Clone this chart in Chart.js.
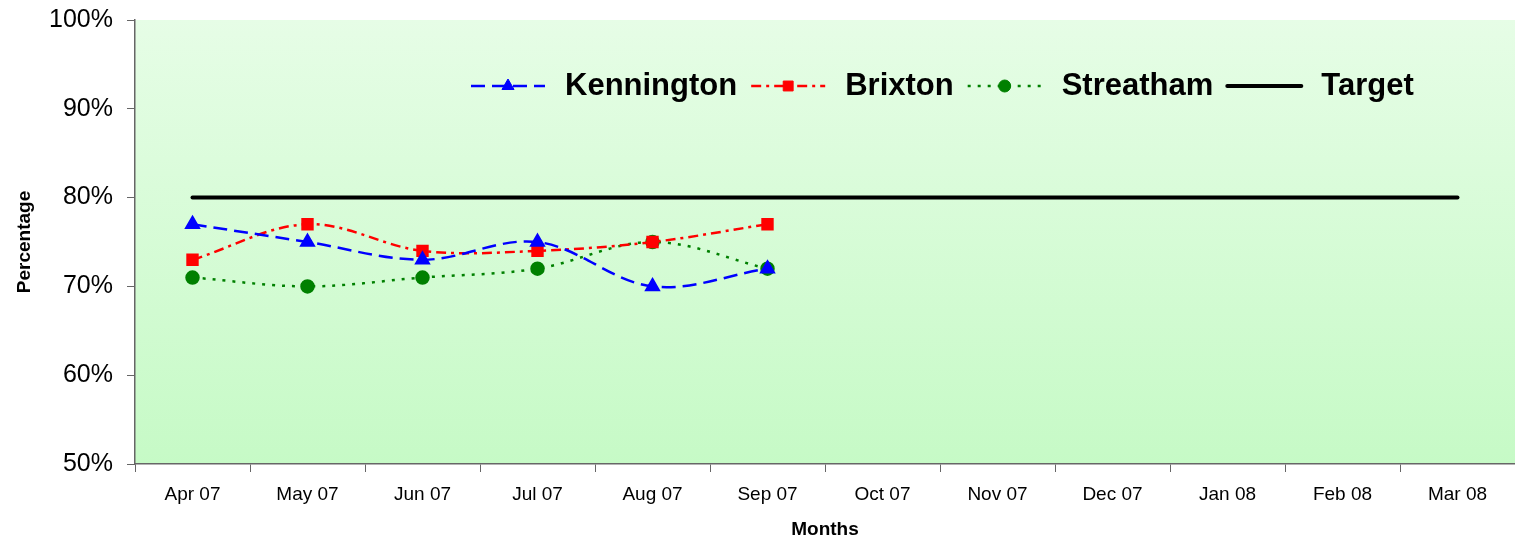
<!DOCTYPE html>
<html lang="en">
<head>
    <meta charset="UTF-8">
    <title>Percentage by Month</title>
    <script src="https://cdn.jsdelivr.net/npm/chart.js"></script>
    <style>
        body {
            margin: 0;
            padding: 0;
            background: #fff;
            overflow: hidden;
        }
        canvas {
            display: block;
        }
    </style>
</head>
<body>
    <canvas id="chart" width="1515" height="542"></canvas>

    <script>
        // data
        const months = ['Apr 07', 'May 07', 'Jun 07', 'Jul 07', 'Aug 07', 'Sep 07',
                        'Oct 07', 'Nov 07', 'Dec 07', 'Jan 08', 'Feb 08', 'Mar 08'];
        const kennington = [77, 75, 73, 75, 70, 72];
        const brixton = [73, 77, 74, 74, 75, 77];
        const streatham = [71, 70, 71, 72, 75, 72];
        const target = [80, 80, 80, 80, 80, 80, 80, 80, 80, 80, 80, 80];
        const yTicks = [50, 60, 70, 80, 90, 100];

        const fontFamily = "Arial, 'Liberation Sans', sans-serif";

        // green gradient behind the plot area
        const plotBackground = {
            id: 'plotBackground',
            beforeDraw(chart) {
                const { ctx, chartArea: a } = chart;
                const g = ctx.createLinearGradient(0, a.top, 0, a.bottom);
                g.addColorStop(0, '#e6fde6');
                g.addColorStop(1, '#c6fac6');
                ctx.save();
                ctx.fillStyle = g;
                ctx.fillRect(a.left, a.top, a.right - a.left, a.bottom - a.top);
                ctx.restore();
            }
        };

        // legend drawn inside the plot, line sample with marker then bold label
        const insideLegend = {
            id: 'insideLegend',
            afterDraw(chart) {
                const ctx = chart.ctx;
                const y = 86;
                let x = 471;
                ctx.save();
                ctx.font = 'bold 31px ' + fontFamily;
                ctx.textBaseline = 'middle';
                chart.data.datasets.forEach(ds => {
                    ctx.save();
                    ctx.strokeStyle = ds.borderColor;
                    ctx.lineWidth = ds.borderWidth;
                    ctx.setLineDash(ds.borderDash || []);
                    ctx.lineCap = ds.borderCapStyle || 'butt';
                    ctx.beginPath();
                    ctx.moveTo(x, y);
                    ctx.lineTo(x + 74, y);
                    ctx.stroke();
                    ctx.restore();
                    if (ds.pointRadius > 0) {
                        ctx.save();
                        ctx.fillStyle = ds.pointBackgroundColor;
                        ctx.strokeStyle = ds.pointBorderColor;
                        Chart.helpers.drawPoint(ctx, {
                            pointStyle: ds.pointStyle,
                            radius: ds.pointRadius,
                            rotation: 0,
                            borderWidth: 1
                        }, x + 37, y);
                        ctx.restore();
                    }
                    ctx.fillStyle = '#000';
                    ctx.fillText(ds.label, x + 94, y);
                    x += 94 + ctx.measureText(ds.label).width + 14;
                });
                ctx.restore();
            }
        };

        new Chart(document.getElementById('chart'), {
            type: 'line',
            data: {
                labels: months,
                datasets: [
                    {
                        label: 'Kennington',
                        data: kennington,
                        borderColor: '#0000ff',
                        borderWidth: 2.5,
                        borderDash: [14, 7],
                        pointStyle: 'triangle',
                        pointRadius: 7,
                        pointBackgroundColor: '#0000ff',
                        pointBorderColor: '#0000ff',
                        tension: 0.35
                    },
                    {
                        label: 'Brixton',
                        data: brixton,
                        borderColor: '#ff0000',
                        borderWidth: 2.5,
                        borderDash: [10, 5, 3, 5],
                        pointStyle: 'rect',
                        pointRadius: 7,
                        pointBackgroundColor: '#ff0000',
                        pointBorderColor: '#ff0000',
                        tension: 0.35
                    },
                    {
                        label: 'Streatham',
                        data: streatham,
                        borderColor: '#008000',
                        borderWidth: 2.5,
                        borderDash: [3, 7],
                        pointStyle: 'circle',
                        pointRadius: 6,
                        pointBackgroundColor: '#008000',
                        pointBorderColor: '#008000',
                        tension: 0.35
                    },
                    {
                        label: 'Target',
                        data: target,
                        borderColor: '#000000',
                        borderWidth: 4,
                        borderCapStyle: 'round',
                        pointRadius: 0,
                        tension: 0
                    }
                ]
            },
            options: {
                responsive: false,
                animation: false,
                layout: {
                    autoPadding: false,
                    padding: { top: 20, right: 0, left: 0, bottom: 0 }
                },
                plugins: {
                    legend: { display: false },
                    tooltip: { enabled: false }
                },
                scales: {
                    x: {
                        offset: true,
                        afterFit: s => {
                            s.height = 78;
                            s.paddingLeft = 0;
                            s.paddingRight = 0;
                        },
                        grid: {
                            offset: true,
                            drawOnChartArea: false,
                            drawTicks: true,
                            tickLength: 8,
                            color: '#666'
                        },
                        border: { color: '#666', width: 1.5 },
                        ticks: {
                            color: '#000',
                            padding: 11,
                            maxRotation: 0,
                            autoSkip: false,
                            font: { family: fontFamily, size: 19 }
                        },
                        title: {
                            display: true,
                            text: 'Months',
                            color: '#000',
                            padding: { top: 0, bottom: 1 },
                            font: { family: fontFamily, size: 19, weight: 'bold' }
                        }
                    },
                    y: {
                        min: yTicks[0],
                        max: yTicks[yTicks.length - 1],
                        afterFit: s => {
                            s.width = 135;
                            s.paddingTop = 0;
                            s.paddingBottom = 0;
                        },
                        afterBuildTicks: s => { s.ticks = yTicks.map(v => ({ value: v })); },
                        grid: {
                            drawOnChartArea: false,
                            drawTicks: true,
                            tickLength: 8,
                            color: '#666'
                        },
                        border: { color: '#666', width: 1.5 },
                        ticks: {
                            color: '#000',
                            padding: 14,
                            callback: v => v + '%',
                            font: { family: fontFamily, size: 25 }
                        },
                        title: {
                            display: true,
                            text: 'Percentage',
                            color: '#000',
                            padding: { top: 13, bottom: 0 },
                            font: { family: fontFamily, size: 19, weight: 'bold' }
                        }
                    }
                }
            },
            plugins: [plotBackground, insideLegend]
        });
    </script>
</body>
</html>
